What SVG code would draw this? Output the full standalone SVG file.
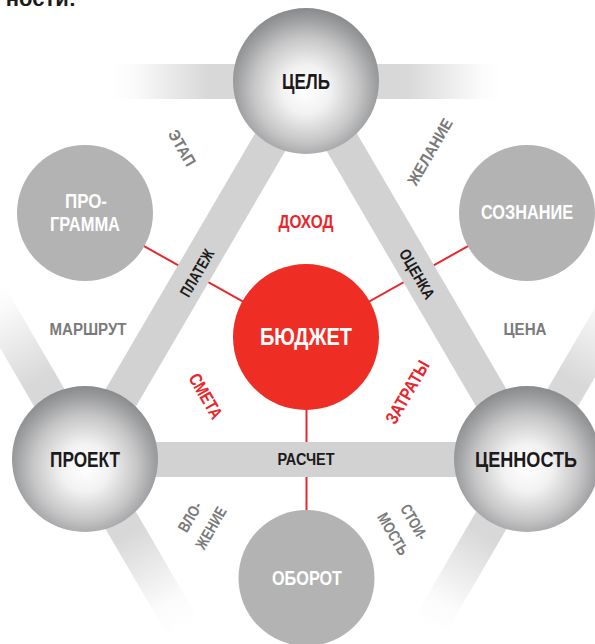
<svg xmlns="http://www.w3.org/2000/svg" width="595" height="644" viewBox="0 0 595 644">
<defs>
<style>
text{font-family:"Liberation Sans",Arial,sans-serif;font-weight:bold;text-anchor:middle}
.big{font-size:22px;fill:#1c1a1a}
.sm{font-size:20px;fill:#ffffff}
.gr{font-size:16px;fill:#7a7a7a}
.bk{font-size:16px;fill:#1c1a1a}
.rd{font-size:18px;fill:#e8262b}
.band{stroke:#d2d2d2;stroke-width:35;fill:none}
.red{stroke:#e8262b;stroke-width:2;fill:none}
.small{fill:#b3b3b3}
.sphere{fill:url(#sph)}
</style>
<radialGradient id="sph" cx="50%" cy="56%" r="55%">
<stop offset="0" stop-color="#ffffff"/>
<stop offset="0.3" stop-color="#f2f2f2"/>
<stop offset="0.65" stop-color="#c6c6c7"/>
<stop offset="0.88" stop-color="#9d9ea0"/>
<stop offset="1" stop-color="#8b8c8e"/>
</radialGradient>
<linearGradient id="gTop" gradientUnits="userSpaceOnUse" x1="110" y1="0" x2="504" y2="0">
<stop offset="0" stop-color="#ffffff"/>
<stop offset="0.06" stop-color="#fbfbfb"/>
<stop offset="0.25" stop-color="#d8d8d8"/>
<stop offset="0.75" stop-color="#d8d8d8"/>
<stop offset="0.94" stop-color="#fbfbfb"/>
<stop offset="1" stop-color="#ffffff"/>
</linearGradient>
<linearGradient id="gLeft" gradientUnits="userSpaceOnUse" x1="-14" y1="289" x2="184" y2="629">
<stop offset="0" stop-color="#ffffff"/>
<stop offset="0.06" stop-color="#fbfbfb"/>
<stop offset="0.27" stop-color="#d8d8d8"/>
<stop offset="0.72" stop-color="#d8d8d8"/>
<stop offset="0.92" stop-color="#fbfbfb"/>
<stop offset="1" stop-color="#ffffff"/>
</linearGradient>
<linearGradient id="gRight" gradientUnits="userSpaceOnUse" x1="626" y1="289" x2="428" y2="629">
<stop offset="0" stop-color="#ffffff"/>
<stop offset="0.06" stop-color="#fbfbfb"/>
<stop offset="0.27" stop-color="#d8d8d8"/>
<stop offset="0.72" stop-color="#d8d8d8"/>
<stop offset="0.92" stop-color="#fbfbfb"/>
<stop offset="1" stop-color="#ffffff"/>
</linearGradient>
</defs>
<rect width="595" height="644" fill="#ffffff"/>
<text x="76" y="6" style="font-size:22px;fill:#1c1a1a;text-anchor:end">ности:</text>

<g id="connectors">
<line x1="110" y1="81.5" x2="504" y2="81.5" stroke="url(#gTop)" stroke-width="35"/>
<line x1="-14" y1="289" x2="184" y2="629" stroke="url(#gLeft)" stroke-width="35"/>
<line x1="626" y1="289" x2="428" y2="629" stroke="url(#gRight)" stroke-width="35"/>
<line class="red" x1="85" y1="213" x2="306" y2="337"/>
<line class="red" x1="527" y1="213" x2="306" y2="337"/>
<line class="red" x1="306.5" y1="337" x2="306.5" y2="578"/>
<line class="band" x1="85" y1="459" x2="306" y2="81"/>
<line class="band" x1="527" y1="459" x2="306" y2="81"/>
<line class="band" x1="85" y1="459.5" x2="527" y2="459.5"/>
<text class="bk" transform="translate(197,273) rotate(-60)" y="5.5" textLength="52" lengthAdjust="spacingAndGlyphs">ПЛАТЕЖ</text>
<text class="bk" transform="translate(417,274) rotate(60)" y="5.5" textLength="55" lengthAdjust="spacingAndGlyphs">ОЦЕНКА</text>
<text class="bk" x="306" y="465" textLength="57" lengthAdjust="spacingAndGlyphs">РАСЧЕТ</text>
</g>

<g id="tsel">
<circle class="sphere" cx="306" cy="81" r="73"/>
<text class="big" x="306" y="89" textLength="48" lengthAdjust="spacingAndGlyphs">ЦЕЛЬ</text>
</g>
<g id="proekt">
<circle class="sphere" cx="85" cy="459" r="73"/>
<text class="big" x="85" y="467" textLength="70" lengthAdjust="spacingAndGlyphs">ПРОЕКТ</text>
</g>
<g id="tsennost">
<circle class="sphere" cx="527" cy="459" r="73"/>
<text class="big" x="526" y="467" textLength="102" lengthAdjust="spacingAndGlyphs">ЦЕННОСТЬ</text>
</g>
<g id="byudzhet">
<circle cx="306" cy="337" r="73" fill="#ee2e24"/>
<text x="306" y="345" style="font-size:24px;fill:#ffffff" textLength="92" lengthAdjust="spacingAndGlyphs">БЮДЖЕТ</text>
</g>
<g id="programma">
<circle class="small" cx="85" cy="213" r="68"/>
<text class="sm" x="86" y="208" textLength="42" lengthAdjust="spacingAndGlyphs">ПРО-</text>
<text class="sm" x="85" y="231" textLength="70" lengthAdjust="spacingAndGlyphs">ГРАММА</text>
</g>
<g id="soznanie">
<circle class="small" cx="527" cy="213" r="68"/>
<text class="sm" x="527" y="219" textLength="92" lengthAdjust="spacingAndGlyphs">СОЗНАНИЕ</text>
</g>
<g id="oborot">
<circle class="small" cx="306.5" cy="578" r="68"/>
<text class="sm" x="307" y="585" textLength="70" lengthAdjust="spacingAndGlyphs">ОБОРОТ</text>
</g>

<g id="labels">
<text class="gr" transform="translate(182,148) rotate(60)" y="5.5" textLength="39" lengthAdjust="spacingAndGlyphs">ЭТАП</text>
<text class="gr" transform="translate(430,152) rotate(-60)" y="5.5" textLength="74" lengthAdjust="spacingAndGlyphs">ЖЕЛАНИЕ</text>
<text class="gr" x="88" y="335" textLength="77" lengthAdjust="spacingAndGlyphs">МАРШРУТ</text>
<text class="gr" x="525" y="335" textLength="43" lengthAdjust="spacingAndGlyphs">ЦЕНА</text>
<text class="gr" transform="translate(190,517) rotate(-60)" y="5.5" textLength="32" lengthAdjust="spacingAndGlyphs">ВЛО-</text>
<text class="gr" transform="translate(211,528) rotate(-60)" y="5.5" textLength="46" lengthAdjust="spacingAndGlyphs">ЖЕНИЕ</text>
<text class="gr" transform="translate(414,522) rotate(60)" y="5.5" textLength="38" lengthAdjust="spacingAndGlyphs">СТОИ-</text>
<text class="gr" transform="translate(393,534) rotate(60)" y="5.5" textLength="46" lengthAdjust="spacingAndGlyphs">МОСТЬ</text>
<text class="rd" x="306" y="228" textLength="55" lengthAdjust="spacingAndGlyphs">ДОХОД</text>
<text class="rd" transform="translate(206,396) rotate(60)" y="6.5" textLength="49" lengthAdjust="spacingAndGlyphs">СМЕТА</text>
<text class="rd" transform="translate(407,392) rotate(-60)" y="6.5" textLength="70" lengthAdjust="spacingAndGlyphs">ЗАТРАТЫ</text>
</g>
</svg>
